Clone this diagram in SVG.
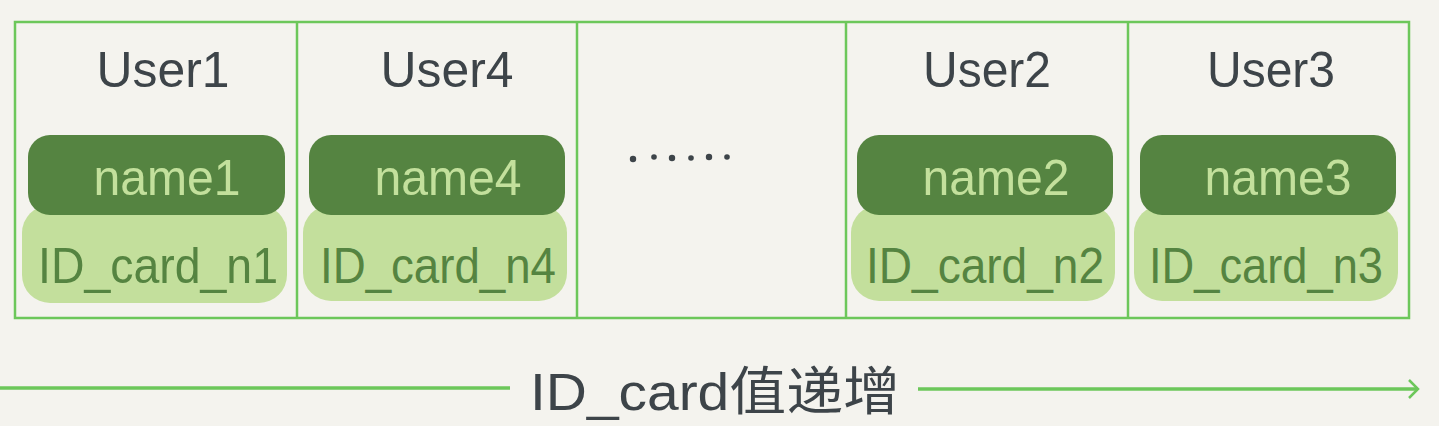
<svg xmlns="http://www.w3.org/2000/svg" width="1439" height="426" viewBox="0 0 1439 426">
<style>
.bg{fill:#f4f3ee}
.cell{fill:none;stroke:#6cc75a;stroke-width:2.5}
.dark{fill:#558441}
.light{fill:#c3df9c}
.user{font-family:"Liberation Sans",sans-serif;font-size:50px;fill:#3d4449;text-anchor:middle}
.nm{font-family:"Liberation Sans",sans-serif;font-size:50px;fill:#c3e09c;text-anchor:middle}
.id{font-family:"Liberation Sans",sans-serif;font-size:50px;fill:#558441;text-anchor:middle}
.lbl{font-family:"Liberation Sans","Noto Sans CJK SC",sans-serif;font-size:52px;fill:#3d4449;text-anchor:middle}
.arr{stroke:#6cc75a;stroke-width:3.5;fill:none}
</style>
<defs>
<marker id="ah" markerWidth="14" markerHeight="20" refX="11" refY="10" orient="auto" markerUnits="userSpaceOnUse">
<path d="M2,1 L11,10 L2,19" fill="none" stroke="#6cc75a" stroke-width="2.5"/>
</marker>
</defs>
<rect class="bg" x="0" y="0" width="1439" height="426"/>
<g id="table">
<rect class="cell" x="15" y="22" width="1394" height="296"/>
<line class="cell" x1="297" y1="22" x2="297" y2="318"/>
<line class="cell" x1="577" y1="22" x2="577" y2="318"/>
<line class="cell" x1="846" y1="22" x2="846" y2="318"/>
<line class="cell" x1="1128" y1="22" x2="1128" y2="318"/>
</g>
<g id="user1">
<text class="user" x="163" y="87" textLength="133" lengthAdjust="spacingAndGlyphs">User1</text>
<rect class="light" x="22" y="205" width="265" height="98" rx="28"/>
<rect class="dark" x="28" y="135" width="257" height="80" rx="22"/>
<text class="nm" x="167" y="195" textLength="147" lengthAdjust="spacingAndGlyphs">name1</text>
<text class="id" x="158" y="283" textLength="240" lengthAdjust="spacingAndGlyphs">ID_card_n1</text>
</g>
<g id="user4">
<text class="user" x="447" y="87" textLength="133" lengthAdjust="spacingAndGlyphs">User4</text>
<rect class="light" x="303" y="205" width="264" height="96" rx="28"/>
<rect class="dark" x="309" y="135" width="256" height="80" rx="22"/>
<text class="nm" x="448" y="195" textLength="147" lengthAdjust="spacingAndGlyphs">name4</text>
<text class="id" x="438" y="283" textLength="236" lengthAdjust="spacingAndGlyphs">ID_card_n4</text>
</g>
<g id="ellipsis">
<circle cx="633" cy="159" r="3.2" fill="#3d4449"/>
<circle cx="654" cy="157" r="2.8" fill="#3d4449"/>
<circle cx="672" cy="158" r="3.2" fill="#3d4449"/>
<circle cx="691" cy="158" r="2.8" fill="#3d4449"/>
<circle cx="709" cy="157" r="3.2" fill="#3d4449"/>
<circle cx="727" cy="157" r="2.8" fill="#3d4449"/>
</g>
<g id="user2">
<text class="user" x="987" y="87" textLength="128" lengthAdjust="spacingAndGlyphs">User2</text>
<rect class="light" x="851" y="205" width="264" height="96" rx="28"/>
<rect class="dark" x="857" y="135" width="256" height="80" rx="22"/>
<text class="nm" x="996" y="195" textLength="147" lengthAdjust="spacingAndGlyphs">name2</text>
<text class="id" x="985" y="283" textLength="238" lengthAdjust="spacingAndGlyphs">ID_card_n2</text>
</g>
<g id="user3">
<text class="user" x="1271" y="87" textLength="128" lengthAdjust="spacingAndGlyphs">User3</text>
<rect class="light" x="1134" y="205" width="264" height="96" rx="28"/>
<rect class="dark" x="1140" y="135" width="256" height="80" rx="22"/>
<text class="nm" x="1278" y="195" textLength="147" lengthAdjust="spacingAndGlyphs">name3</text>
<text class="id" x="1266" y="283" textLength="234" lengthAdjust="spacingAndGlyphs">ID_card_n3</text>
</g>
<g id="connectors">
<line class="arr" x1="0" y1="388" x2="510" y2="388"/>
<line class="arr" x1="918" y1="389" x2="1418" y2="389" marker-end="url(#ah)"/>
</g>
<g id="axis-label">
<text class="lbl" x="715" y="410" textLength="370" lengthAdjust="spacingAndGlyphs">ID_card值递增</text>
</g>
</svg>
